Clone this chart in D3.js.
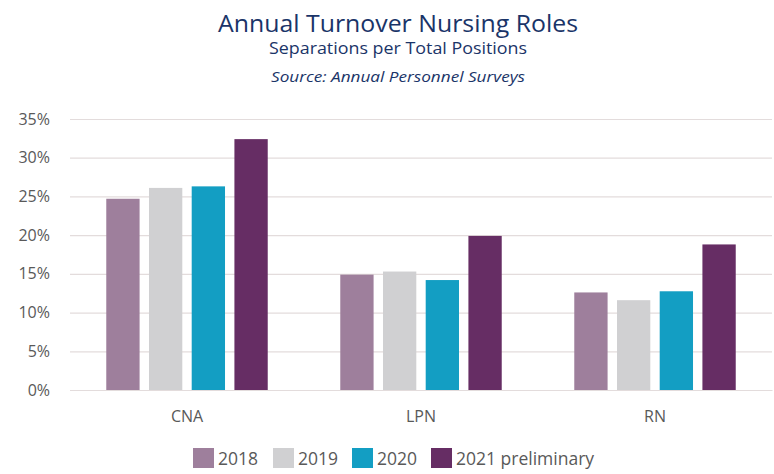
<!DOCTYPE html>
<html><head><meta charset="utf-8">
<script src="https://cdn.jsdelivr.net/npm/d3@7"></script>
<style>body{margin:0;background:#fff;} svg{display:block;font-family:"Open Sans",sans-serif;}</style>
</head><body>
<svg id="chart" width="774" height="474"></svg>
<script>
const categories = ["CNA", "LPN", "RN"];
const seriesNames = ["2018", "2019", "2020", "2021 preliminary"];
const values2018 = [24.7, 14.9, 12.6];
const values2019 = [26.1, 15.3, 11.6];
const values2020 = [26.3, 14.2, 12.75];
const values2021 = [32.4, 19.9, 18.8];
const yTicks = [0, 5, 10, 15, 20, 25, 30, 35];
const colors = ["#9e7f9c", "#d0d0d2", "#139ec3", "#662d64"];

const series = [values2018, values2019, values2020, values2021];
const svg = d3.select("#chart");
const mLeft = 70, mRight = 772, mTop = 119, mBottom = 390;

const x0 = d3.scaleBand().domain(categories).range([mLeft, mRight]).paddingInner(0.31).paddingOuter(0.155);
const x1 = d3.scaleBand().domain(seriesNames).range([0, x0.bandwidth()]).paddingInner(0.22);
const y = d3.scaleLinear().domain([0, 35]).range([mBottom, mTop]);

// titles
svg.append("text").attr("x", 398).attr("y", 32).attr("text-anchor", "middle")
  .attr("fill", "#1a3468").attr("font-size", 24).attr("font-weight", 500).attr("textLength", 360).attr("lengthAdjust","spacingAndGlyphs")
  .text("Annual Turnover Nursing Roles");
svg.append("text").attr("x", 398).attr("y", 54).attr("text-anchor", "middle")
  .attr("fill", "#1a3468").attr("font-size", 16).attr("font-weight", 500).attr("textLength", 258).attr("lengthAdjust","spacingAndGlyphs")
  .text("Separations per Total Positions");
svg.append("text").attr("x", 398).attr("y", 82).attr("text-anchor", "middle")
  .attr("fill", "#1a3468").attr("font-size", 14).attr("font-weight", 500).attr("font-style", "italic").attr("textLength", 254).attr("lengthAdjust","spacingAndGlyphs")
  .text("Source: Annual Personnel Surveys");

// y axis grid
const yAxis = d3.axisLeft(y).tickValues(yTicks).tickFormat(d => d + "%").tickSize(-(mRight - mLeft)).tickPadding(20);
const ga = svg.append("g").attr("transform", `translate(${mLeft},0)`).call(yAxis);
ga.select(".domain").remove();
ga.selectAll(".tick line").attr("stroke", "#e3dcdc").attr("stroke-width", 1.2);
ga.selectAll(".tick text").attr("fill", "#595959").attr("font-size", 16).attr("font-family", "Open Sans, sans-serif");

// bars
const groups = svg.append("g").selectAll("g").data(categories).join("g")
  .attr("transform", d => `translate(${x0(d)},0)`);
groups.selectAll("rect").data((c, ci) => seriesNames.map((s, si) => ({s, si, v: series[si][ci]}))).join("rect")
  .attr("x", d => x1(d.s)).attr("width", x1.bandwidth())
  .attr("y", d => y(d.v)).attr("height", d => y(0) - y(d.v))
  .attr("fill", d => colors[d.si]);

// x axis
const xAxis = d3.axisBottom(x0).tickSize(0).tickPadding(21);
const gx = svg.append("g").attr("transform", `translate(0,${mBottom})`).call(xAxis);
gx.select(".domain").attr("stroke", "#e3dcdc").attr("stroke-width", 1.2);
gx.selectAll(".tick text").attr("fill", "#595959").attr("font-size", 16).attr("font-family", "Open Sans, sans-serif");

// legend
const legendX = [193, 273, 352, 431];
const lg = svg.append("g").selectAll("g").data(seriesNames).join("g")
  .attr("transform", (d, i) => `translate(${legendX[i]},448)`);
lg.append("rect").attr("width", 21).attr("height", 20).attr("fill", (d, i) => colors[i]);
lg.append("text").attr("x", 25).attr("y", 17).attr("fill", "#595959").attr("font-size", 17.5).text(d => d);
</script>
</body></html>
